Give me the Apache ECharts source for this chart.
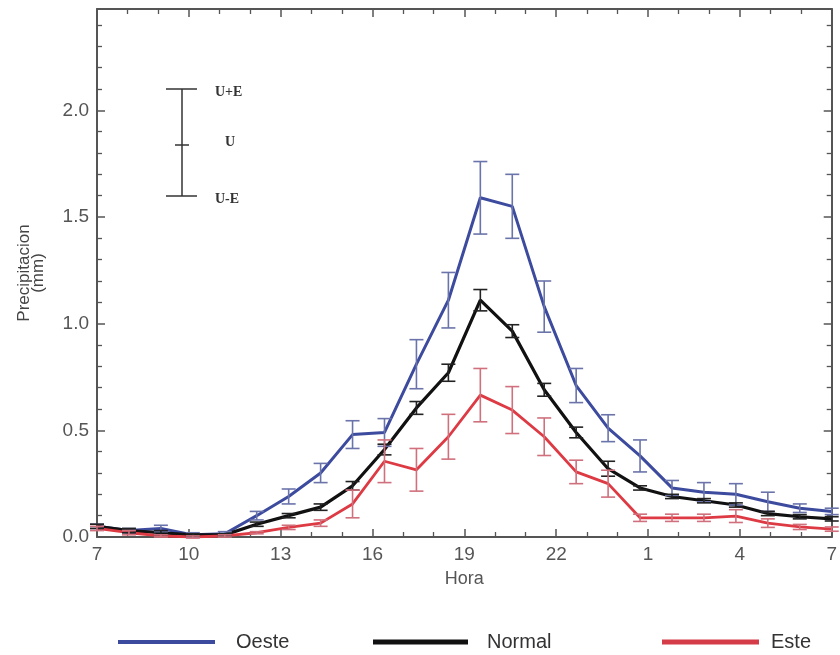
<!DOCTYPE html>
<html>
<head>
<meta charset="utf-8">
<script src="https://cdn.jsdelivr.net/npm/echarts@6/dist/echarts.min.js"></script>
<style>html,body{margin:0;padding:0;background:#fff}#c{width:840px;height:655px}</style>
</head>
<body>
<div id="c"></div>
<script>
// hourly categories (07h .. 06h next day)
var categories = ['7','8','9','10','11','12','13','14','15','16','17','18','19','20','21','22','23','0','1','2','3','4','5','6'];
var xTickLabels = ['7','10','13','16','19','22','1','4','7'];
var yTickLabels = ['0.0','0.5','1.0','1.5','2.0'];

var oeste    = [0.05, 0.03, 0.04, 0.01, 0.015, 0.10, 0.19, 0.30, 0.48, 0.49, 0.81, 1.11, 1.59, 1.55, 1.08, 0.71, 0.51, 0.38, 0.23, 0.21, 0.20, 0.165, 0.135, 0.12];
var oesteErr = [0.01, 0.01, 0.015, 0.01, 0.01, 0.02, 0.035, 0.045, 0.065, 0.065, 0.115, 0.13, 0.17, 0.15, 0.12, 0.08, 0.063, 0.075, 0.035, 0.045, 0.05, 0.045, 0.02, 0.015];

var normal    = [0.05, 0.03, 0.02, 0.01, 0.01, 0.06, 0.10, 0.14, 0.24, 0.41, 0.605, 0.77, 1.11, 0.965, 0.69, 0.49, 0.32, 0.23, 0.19, 0.17, 0.15, 0.11, 0.095, 0.085];
var normalErr = [0.01, 0.01, 0.01, 0.005, 0.005, 0.01, 0.01, 0.015, 0.02, 0.025, 0.03, 0.04, 0.05, 0.03, 0.03, 0.025, 0.035, 0.01, 0.01, 0.01, 0.01, 0.01, 0.01, 0.01];

var este    = [0.04, 0.02, 0.005, 0.0, 0.005, 0.02, 0.045, 0.065, 0.155, 0.355, 0.315, 0.47, 0.665, 0.595, 0.47, 0.305, 0.25, 0.09, 0.09, 0.09, 0.098, 0.065, 0.047, 0.037];
var esteErr = [0.01, 0.01, 0.005, 0.005, 0.005, 0.005, 0.01, 0.015, 0.065, 0.1, 0.1, 0.105, 0.125, 0.11, 0.088, 0.055, 0.063, 0.017, 0.017, 0.017, 0.03, 0.02, 0.012, 0.01];

function errData(vals, errs) {
  return vals.map(function (v, i) { return [i, v - errs[i], v + errs[i]]; });
}
function errRender(color) {
  return function (params, api) {
    var x = api.value(0);
    var lo = api.coord([x, api.value(1)]);
    var hi = api.coord([x, api.value(2)]);
    var w = 7;
    var st = { stroke: color, lineWidth: 1.6 };
    return { type: 'group', children: [
      { type: 'line', shape: { x1: lo[0], y1: lo[1], x2: hi[0], y2: hi[1] }, style: st },
      { type: 'line', shape: { x1: lo[0] - w, y1: lo[1], x2: lo[0] + w, y2: lo[1] }, style: st },
      { type: 'line', shape: { x1: hi[0] - w, y1: hi[1], x2: hi[0] + w, y2: hi[1] }, style: st }
    ]};
  };
}

var FRAME = '#555';
var labelFont = 'Liberation Sans';
function aLine() { return { show: true, onZero: false, lineStyle: { color: FRAME, width: 2 } }; }
function tick() { return { show: true, inside: true, length: 8, lineStyle: { color: FRAME, width: 1.5 } }; }
function minor(n) { return { show: true, splitNumber: n, length: 5, lineStyle: { color: FRAME, width: 1.3 } }; }
var GS = { stroke: '#333', lineWidth: 1.5 };
var GF = 'bold 14px "Liberation Serif"';

var chart = echarts.init(document.getElementById('c'), null, { renderer: 'canvas' });
chart.setOption({
  animation: false,
  backgroundColor: '#fff',
  grid: { left: 97, right: 2, top: 9, bottom: 118, containLabel: false },
  xAxis: [
    { type: 'value', min: 0, max: 24, interval: 3, position: 'bottom',
      axisLine: aLine(), axisTick: tick(), minorTick: minor(3),
      splitLine: { show: false },
      axisLabel: { color: '#555', fontSize: 19, fontFamily: labelFont, margin: 8,
        formatter: function (v) { return xTickLabels[Math.round(v / 3)]; } },
      name: 'Hora', nameLocation: 'middle', nameGap: 33,
      nameTextStyle: { color: '#555', fontSize: 18, fontFamily: labelFont } },
    { type: 'value', min: 0, max: 24, interval: 3, position: 'top',
      axisLine: aLine(), axisTick: tick(), minorTick: minor(3),
      splitLine: { show: false }, axisLabel: { show: false } },
    { type: 'category', data: categories, boundaryGap: false, show: false, position: 'bottom' }
  ],
  yAxis: [
    { type: 'value', min: 0, max: 2.475, interval: 0.5, position: 'left',
      axisLine: aLine(), axisTick: tick(), minorTick: minor(5),
      splitLine: { show: false },
      axisLabel: { color: '#555', fontSize: 19, fontFamily: labelFont, margin: 8, showMaxLabel: false,
        formatter: function (v) { var i = Math.round(v / 0.5); return yTickLabels[i] || ''; } },
      name: 'Precipitacion\n(mm)', nameLocation: 'middle', nameGap: 52, nameRotate: 90,
      nameTextStyle: { color: '#444', fontSize: 17, fontFamily: labelFont, lineHeight: 14 } },
    { type: 'value', min: 0, max: 2.475, interval: 0.5, position: 'right',
      axisLine: aLine(), axisTick: tick(), minorTick: minor(5),
      splitLine: { show: false }, axisLabel: { show: false } }
  ],
  legend: [
    { data: ['Oeste'], left: 113, top: 627, icon: 'rect', itemWidth: 97, itemHeight: 4,
      textStyle: { fontSize: 20, color: '#333', fontFamily: labelFont, padding: [0, 0, 0, 16] } },
    { data: ['Normal'], left: 368, top: 627, icon: 'rect', itemWidth: 95, itemHeight: 5,
      textStyle: { fontSize: 20, color: '#333', fontFamily: labelFont, padding: [0, 0, 0, 14] } },
    { data: ['Este'], left: 657, top: 627, icon: 'rect', itemWidth: 97, itemHeight: 5,
      textStyle: { fontSize: 20, color: '#333', fontFamily: labelFont, padding: [0, 0, 0, 7] } }
  ],
  graphic: [
    { type: 'line', shape: { x1: 182, y1: 89, x2: 182, y2: 196 }, style: GS },
    { type: 'line', shape: { x1: 166, y1: 89, x2: 197, y2: 89 }, style: GS },
    { type: 'line', shape: { x1: 166, y1: 196, x2: 197, y2: 196 }, style: GS },
    { type: 'line', shape: { x1: 175, y1: 145, x2: 189, y2: 145 }, style: GS },
    { type: 'text', x: 215, y: 85, style: { text: 'U+E', fill: '#333', font: GF } },
    { type: 'text', x: 225, y: 135, style: { text: 'U', fill: '#333', font: GF } },
    { type: 'text', x: 215, y: 192, style: { text: 'U-E', fill: '#333', font: GF } }
  ],
  series: [
    { name: 'Oeste', type: 'line', xAxisIndex: 2, yAxisIndex: 0, data: oeste, symbol: 'none',
      lineStyle: { color: '#3d4b9e', width: 3 }, itemStyle: { color: '#3d4b9e' }, z: 3 },
    { name: 'Oeste', type: 'custom', xAxisIndex: 2, yAxisIndex: 0, data: errData(oeste, oesteErr),
      renderItem: errRender('#6a74aa'), encode: { x: 0, y: [1, 2] }, z: 4 },
    { name: 'Normal', type: 'line', xAxisIndex: 2, yAxisIndex: 0, data: normal, symbol: 'none',
      lineStyle: { color: '#111', width: 3.2 }, itemStyle: { color: '#111' }, z: 3 },
    { name: 'Normal', type: 'custom', xAxisIndex: 2, yAxisIndex: 0, data: errData(normal, normalErr),
      renderItem: errRender('#222'), encode: { x: 0, y: [1, 2] }, z: 4 },
    { name: 'Este', type: 'line', xAxisIndex: 2, yAxisIndex: 0, data: este, symbol: 'none',
      lineStyle: { color: '#dd3a44', width: 2.8 }, itemStyle: { color: '#d43c47' }, z: 3 },
    { name: 'Este', type: 'custom', xAxisIndex: 2, yAxisIndex: 0, data: errData(este, esteErr),
      renderItem: errRender('#d0707c'), encode: { x: 0, y: [1, 2] }, z: 4 }
  ]
});
</script>
</body>
</html>
